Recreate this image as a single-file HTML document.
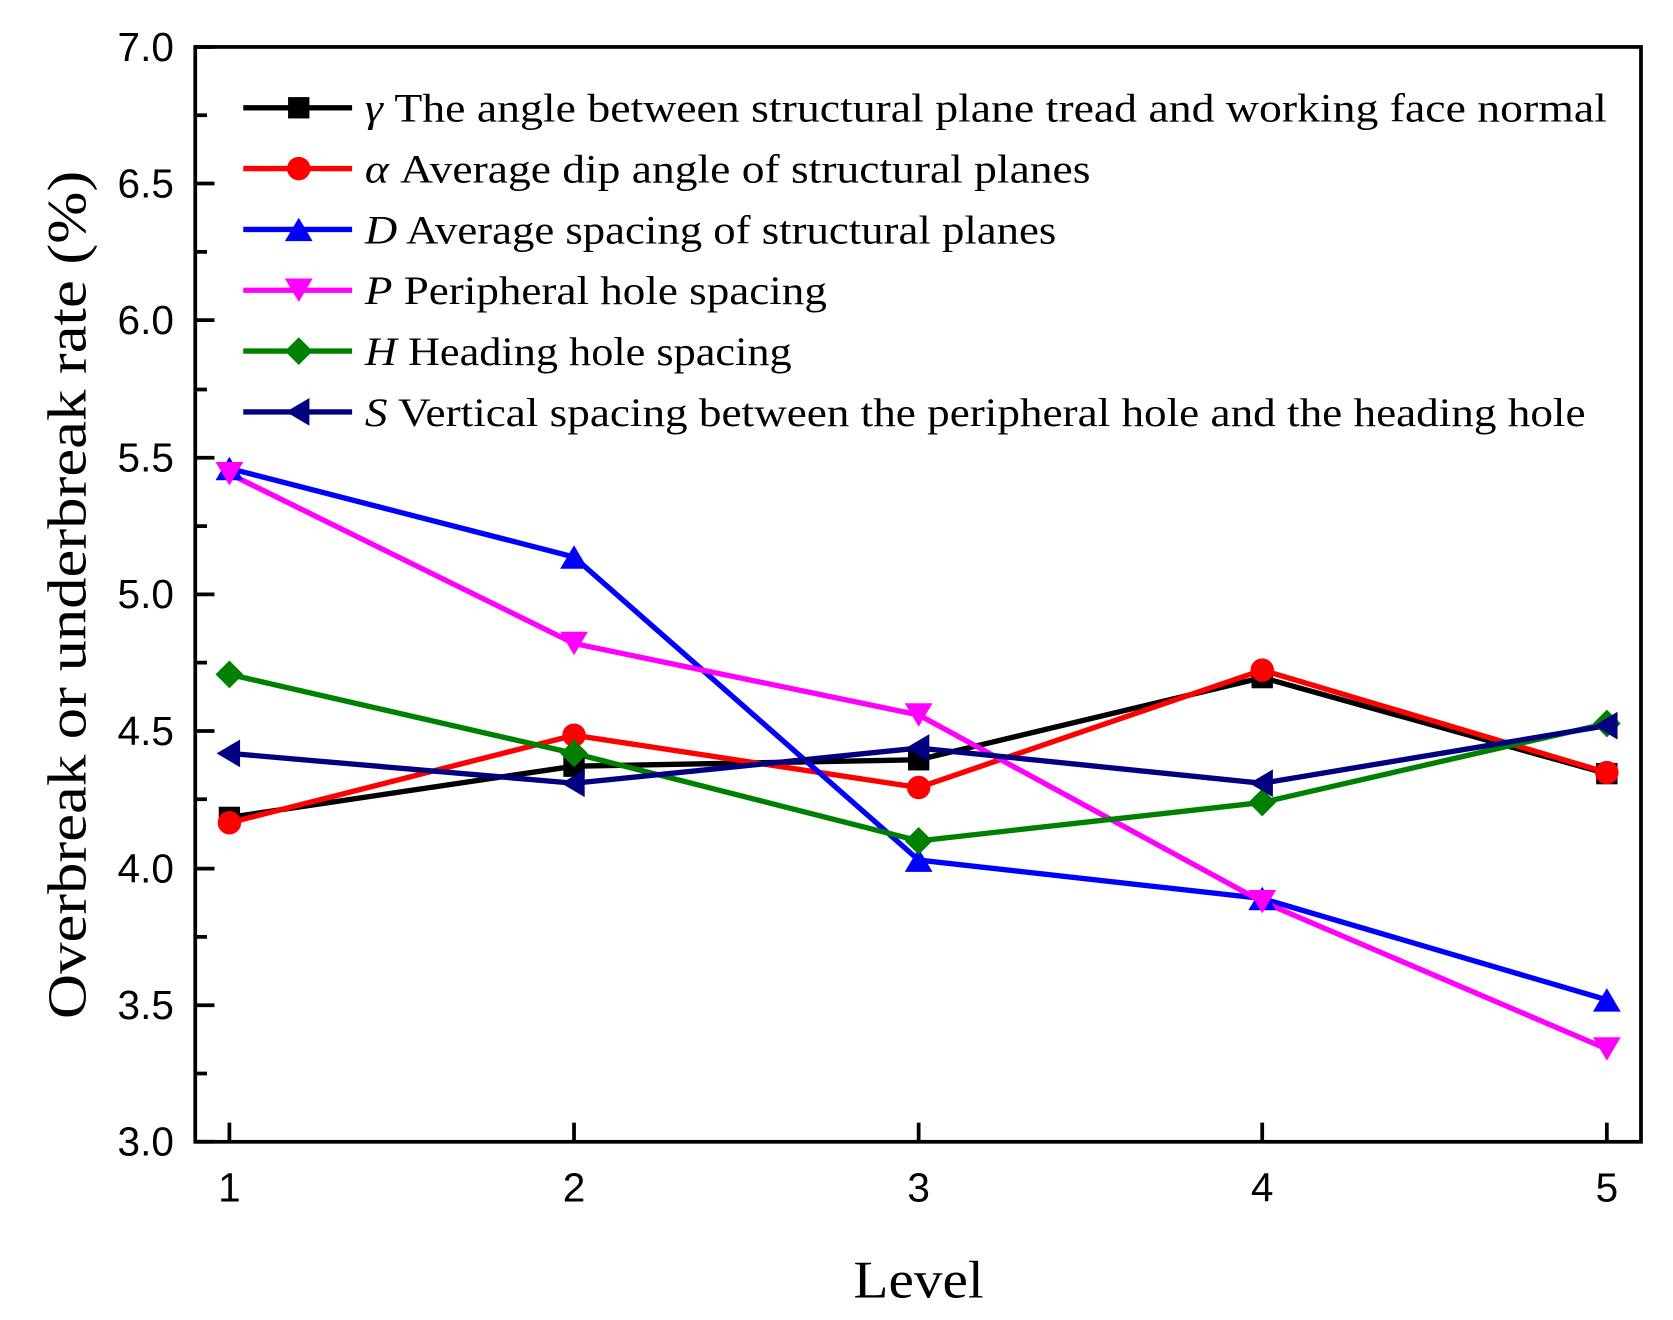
<!DOCTYPE html>
<html><head><meta charset="utf-8"><style>html,body{margin:0;padding:0;background:#fff}svg{display:block}</style></head>
<body>
<svg width="1673" height="1320" viewBox="0 0 1568 1237" preserveAspectRatio="none" xmlns="http://www.w3.org/2000/svg">
<rect width="1568" height="1237" fill="#fff"/>
<g stroke="#000" stroke-width="3.5" fill="none">
<rect x="183" y="44" width="1355" height="1026"/>
<path d="M183 44h18M183 172h18M183 300h18M183 429h18M183 557h18M183 685h18M183 814h18M183 942h18M183 1070h18
M183 108h11M183 236h11M183 365h11M183 493h11M183 621h11M183 749h11M183 878h11M183 1006h11
M215 1070v-18M538 1070v-18M861 1070v-18M1183 1070v-18M1506 1070v-18"/>
</g>
<g font-family="Liberation Sans, sans-serif" font-size="38" fill="#000" text-anchor="end">
<text x="163" y="57">7.0</text><text x="163" y="185">6.5</text><text x="163" y="313">6.0</text>
<text x="163" y="442">5.5</text><text x="163" y="570">5.0</text><text x="163" y="698">4.5</text>
<text x="163" y="827">4.0</text><text x="163" y="955">3.5</text><text x="163" y="1083">3.0</text>
</g>
<g font-family="Liberation Sans, sans-serif" font-size="38" fill="#000" text-anchor="middle">
<text x="215" y="1126">1</text><text x="538" y="1126">2</text><text x="861" y="1126">3</text><text x="1183" y="1126">4</text><text x="1506" y="1126">5</text>
</g>
<text x="800" y="1216" font-family="Liberation Serif, serif" font-size="50" textLength="122" lengthAdjust="spacingAndGlyphs">Level</text>
<text transform="translate(80,955) rotate(-90)" font-family="Liberation Serif, serif" font-size="52" textLength="795" lengthAdjust="spacingAndGlyphs">Overbreak or underbreak rate (%)</text>

<g stroke-width="5" fill="none">
<polyline stroke="#000" points="215,766 538,718 861,712 1183,635 1506,725"/>
<polyline stroke="#f00" points="215,771 538,689 861,738 1183,628 1506,724"/>
<polyline stroke="#00f" points="215,439 538,522 861,806 1183,842 1506,937"/>
<polyline stroke="#f0f" points="215,444 538,603 861,670 1183,845 1506,983"/>
<polyline stroke="#008000" points="215,632 538,706 861,788 1183,752 1506,678"/>
<polyline stroke="#000080" points="215,706 538,734 861,701 1183,734 1506,680"/>
</g>
<g fill="#000"><rect x="205" y="756" width="20" height="20"/><rect x="528" y="708" width="20" height="20"/><rect x="851" y="702" width="20" height="20"/><rect x="1173" y="625" width="20" height="20"/><rect x="1496" y="715" width="20" height="20"/></g>
<g fill="#f00"><circle cx="215" cy="771" r="11"/><circle cx="538" cy="689" r="11"/><circle cx="861" cy="738" r="11"/><circle cx="1183" cy="628" r="11"/><circle cx="1506" cy="724" r="11"/></g>
<g fill="#00f"><path d="M215 428l13 22h-26z"/><path d="M538 511l13 22h-26z"/><path d="M861 795l13 22h-26z"/><path d="M1183 831l13 22h-26z"/><path d="M1506 926l13 22h-26z"/></g>
<g fill="#f0f"><path d="M215 455l13 -22h-26z"/><path d="M538 614l13 -22h-26z"/><path d="M861 681l13 -22h-26z"/><path d="M1183 856l13 -22h-26z"/><path d="M1506 994l13 -22h-26z"/></g>
<g fill="#008000"><path d="M215 619l13 13-13 13-13-13z"/><path d="M538 693l13 13-13 13-13-13z"/><path d="M861 775l13 13-13 13-13-13z"/><path d="M1183 739l13 13-13 13-13-13z"/><path d="M1506 665l13 13-13 13-13-13z"/></g>
<g fill="#000080"><path d="M203 706l22-13v26z"/><path d="M526 734l22-13v26z"/><path d="M849 701l22-13v26z"/><path d="M1171 734l22-13v26z"/><path d="M1494 680l22-13v26z"/></g>

<g stroke-width="5">
<line x1="228" y1="101" x2="330" y2="101" stroke="#000"/>
<line x1="228" y1="158" x2="330" y2="158" stroke="#f00"/>
<line x1="228" y1="215" x2="330" y2="215" stroke="#00f"/>
<line x1="228" y1="272" x2="330" y2="272" stroke="#f0f"/>
<line x1="228" y1="329" x2="330" y2="329" stroke="#008000"/>
<line x1="228" y1="386" x2="330" y2="386" stroke="#000080"/>
</g>
<rect x="270" y="91" width="20" height="20" fill="#000"/>
<circle cx="280" cy="158" r="11" fill="#f00"/>
<path d="M280 204l13 22h-26z" fill="#00f"/>
<path d="M280 283l13 -22h-26z" fill="#f0f"/>
<path d="M280 316l13 13-13 13-13-13z" fill="#008000"/>
<path d="M268 386l22-13v26z" fill="#000080"/>
<g font-family="Liberation Serif, serif" font-size="38" fill="#000" lengthAdjust="spacingAndGlyphs">
<text x="342" y="114" textLength="1164" lengthAdjust="spacingAndGlyphs"><tspan font-style="italic">γ</tspan>  The angle between structural plane tread  and working face normal</text>
<text x="342" y="171" textLength="680" lengthAdjust="spacingAndGlyphs"><tspan font-style="italic">α</tspan>  Average dip angle of structural planes</text>
<text x="342" y="228" textLength="648" lengthAdjust="spacingAndGlyphs"><tspan font-style="italic">D</tspan> Average spacing of structural planes</text>
<text x="342" y="285" textLength="433" lengthAdjust="spacingAndGlyphs"><tspan font-style="italic">P</tspan>  Peripheral hole spacing</text>
<text x="342" y="342" textLength="400" lengthAdjust="spacingAndGlyphs"><tspan font-style="italic">H</tspan> Heading hole spacing</text>
<text x="342" y="399" textLength="1144" lengthAdjust="spacingAndGlyphs"><tspan font-style="italic">S</tspan>  Vertical spacing between the peripheral hole and the heading hole</text>
</g>
</svg>
</body></html>
